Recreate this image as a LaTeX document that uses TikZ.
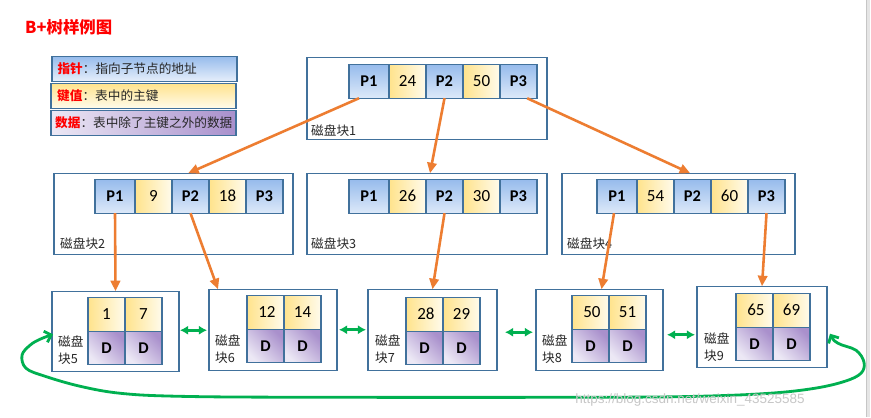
\documentclass[tikz,border=0pt]{standalone}
\usepackage{fontspec}
\usepackage{xcolor}
\usepackage{tikz}
\setmainfont{Carlito}
\newfontfamily\cjk{Noto Sans CJK SC}
\newfontfamily\wmfont{Liberation Sans}
\usetikzlibrary{positioning,arrows.meta,calc}
\definecolor{edge}{HTML}{41719C}
\definecolor{ptop}{HTML}{96BBEC}
\definecolor{pbot}{HTML}{DDE9F9}
\definecolor{kleft}{HTML}{FFE38C}
\definecolor{kright}{HTML}{FFFBEC}
\definecolor{dtop}{HTML}{A990CC}
\definecolor{dbot}{HTML}{ECE8F5}
\definecolor{arrowc}{HTML}{ED7D31}
\definecolor{linkc}{HTML}{00B050}

\begin{document}
\begin{tikzpicture}[x=0.03cm,y=-0.03cm,
  blk/.style={draw=edge,line width=1pt,inner sep=0pt,outer sep=0pt,anchor=north west},
  pcell/.style={draw=edge,line width=1pt,top color=ptop,bottom color=pbot,minimum width=1.11cm,minimum height=1.02cm,inner sep=0pt,outer sep=0pt,font=\fontsize{14}{16}\selectfont\bfseries},
  kcell/.style={draw=edge,line width=1pt,left color=kleft,right color=kright,minimum width=1.11cm,minimum height=1.02cm,inner sep=0pt,outer sep=0pt,font=\fontsize{14.5}{16}\selectfont},
  dcell/.style={draw=edge,line width=1pt,top color=dtop,bottom color=dbot,shading angle=-45,minimum width=1.11cm,minimum height=0.99cm,inner sep=0pt,outer sep=0pt,font=\fontsize{14}{16}\selectfont\bfseries},
  legbox/.style={draw=edge,line width=1pt,minimum width=5.55cm,minimum height=0.76cm,inner sep=0pt,outer sep=0pt,anchor=north west},
  tag/.style={font=\cjk\fontsize{10.8}{14}\selectfont,text=black!85,inner sep=0pt,anchor=west,align=left},
  ptr/.style={draw=arrowc,line width=2.2pt,-{Triangle[length=9pt,width=8pt]}},
  link/.style={draw=linkc,line width=2.4pt,{Latex[length=7pt,width=8pt]}-{Latex[length=7pt,width=8pt]}}]
\path[fill=white] (0,0) rectangle (871,417);
\fill[gray!20] (866.5,0) rectangle (870,417);
\draw[gray!45] (866.5,0) -- (866.5,417);

\node[font=\cjk\bfseries\fontsize{14}{16}\selectfont,text=red,anchor=west,inner sep=0pt] (title) at (25,27) {B+树样例图};

\node[legbox,top color=ptop,bottom color=pbot!70!white] (leg1) at (52,56) {};
\node[tag] at ([xshift=0.16cm]leg1.west) {{\bfseries\color{red}指针}：指向子节点的地址};
\node[legbox,top color=kleft,bottom color=kright] (leg2) at (51,83) {};
\node[tag] at ([xshift=0.18cm]leg2.west) {{\bfseries\color{red}键值}：表中的主键};
\node[legbox,left color=dbot,right color=dtop] (leg3) at (51,110) {};
\node[tag] at ([xshift=0.12cm]leg3.west) {{\bfseries\color{red}数据}：表中除了主键之外的数据};

\node[blk,minimum width=7.2cm,minimum height=2.46cm] (b1) at (307,57) {};
\node[pcell,minimum width=1.2cm,anchor=north west] (r1p1) at (349,64) {P1};
\node[kcell,right=0pt of r1p1] (r1k1) {24};
\node[pcell,right=0pt of r1k1] (r1p2) {P2};
\node[kcell,right=0pt of r1p2] (r1k2) {50};
\node[pcell,right=0pt of r1k2] (r1p3) {P3};
\node[tag] at (311,130) {磁盘块1};

\node[blk,minimum width=7.17cm,minimum height=2.43cm] (b2) at (54,173) {};
\node[pcell,minimum width=1.2cm,anchor=north west] (r2p1) at (95,179) {P1};
\node[kcell,right=0pt of r2p1] (r2k1) {9};
\node[pcell,right=0pt of r2k1] (r2p2) {P2};
\node[kcell,right=0pt of r2p2] (r2k2) {18};
\node[pcell,right=0pt of r2k2] (r2p3) {P3};
\node[tag] at (60,243) {磁盘块2};

\node[blk,minimum width=7.2cm,minimum height=2.43cm] (b3) at (307,173) {};
\node[pcell,minimum width=1.2cm,anchor=north west] (r3p1) at (349,179) {P1};
\node[kcell,right=0pt of r3p1] (r3k1) {26};
\node[pcell,right=0pt of r3k1] (r3p2) {P2};
\node[kcell,right=0pt of r3p2] (r3k2) {30};
\node[pcell,right=0pt of r3k2] (r3p3) {P3};
\node[tag] at (311,243) {磁盘块3};

\node[blk,minimum width=6.99cm,minimum height=2.43cm] (b4) at (562,173) {};
\node[pcell,minimum width=1.2cm,anchor=north west] (r4p1) at (597,179) {P1};
\node[kcell,right=0pt of r4p1] (r4k1) {54};
\node[pcell,right=0pt of r4k1] (r4p2) {P2};
\node[kcell,right=0pt of r4p2] (r4k2) {60};
\node[pcell,right=0pt of r4k2] (r4p3) {P3};
\node[tag] at (567,243) {磁盘块4};

\node[blk,minimum width=3.81cm,minimum height=2.4cm] (b5) at (52,291) {};
\node[kcell,anchor=north west] (l5k1) at (88,297) {1};
\node[kcell,right=0pt of l5k1] (l5k2) {7};
\node[dcell,below=0pt of l5k1] (l5d1) {D};
\node[dcell,right=0pt of l5d1] (l5d2) {D};
\node[tag] at (58,350) {磁盘\\块5};

\node[blk,minimum width=3.84cm,minimum height=2.43cm] (b6) at (209,289) {};
\node[kcell,anchor=north west] (l6k1) at (247,295) {\,12};
\node[kcell,right=0pt of l6k1] (l6k2) {14};
\node[dcell,below=0pt of l6k1] (l6d1) {D};
\node[dcell,right=0pt of l6d1] (l6d2) {D};
\node[tag] at (215,349) {磁盘\\块6};

\node[blk,minimum width=3.87cm,minimum height=2.43cm] (b7) at (368,289) {};
\node[kcell,anchor=north west] (l7k1) at (406,297) {\,28};
\node[kcell,right=0pt of l7k1] (l7k2) {29};
\node[dcell,below=0pt of l7k1] (l7d1) {D};
\node[dcell,right=0pt of l7d1] (l7d2) {D};
\node[tag] at (375,349) {磁盘\\块7};

\node[blk,minimum width=3.81cm,minimum height=2.43cm] (b8) at (536,289) {};
\node[kcell,anchor=north west] (l8k1) at (572,295) {\,50};
\node[kcell,right=0pt of l8k1] (l8k2) {51};
\node[dcell,below=0pt of l8k1] (l8d1) {D};
\node[dcell,right=0pt of l8d1] (l8d2) {D};
\node[tag] at (542,349) {磁盘\\块8};

\node[blk,minimum width=3.9cm,minimum height=2.43cm] (b9) at (697,286) {};
\node[kcell,anchor=north west] (l9k1) at (736,293) {\,65};
\node[kcell,right=0pt of l9k1] (l9k2) {69};
\node[dcell,below=0pt of l9k1] (l9d1) {D};
\node[dcell,right=0pt of l9d1] (l9d2) {D};
\node[tag] at (704,347) {磁盘\\块9};

\draw[ptr] ([xshift=-0.3cm]r1p1.south) -- ([xshift=0.44cm]b2.north);
\draw[ptr] (r1p2.south) -- ([xshift=0.09cm]b3.north);
\draw[ptr] ([xshift=0.26cm]r1p3.south) -- ([xshift=0.35cm]b4.north);
\draw[ptr] (r2p1.south) -- (b5.north);
\draw[ptr] (r2p2.south) -- ([xshift=0.27cm]b6.north west);
\draw[ptr] (r3p2.south) -- (b7.north);
\draw[ptr] ([xshift=-0.09cm]r4p1.south) -- ([xshift=0.06cm]b8.north);
\draw[ptr] (r4p3.south) -- (b9.north);

\draw[link] ($(b5.east)+(1,-1)$) -- ($(b6.west)+(-2,0.5)$);
\draw[link] ($(b6.east)+(2,0)$) -- ($(b7.west)+(-2,0)$);
\draw[link] ($(b7.east)+(8,2.5)$) -- ($(b8.west)+(-3,2.5)$);
\draw[link] ($(b8.east)+(4,5)$) -- ($(b9.west)+(-2,8)$);

\coordinate (loopA) at ($(b9.east)+(3,7)$);
\coordinate (loopB) at ($(b5.west)+(1,3)$);
\draw[linkc,line width=2.4pt,line cap=round,{Straight Barb[length=5pt,width=10pt]}-{Straight Barb[length=5pt,width=10pt]}]
  plot[smooth,tension=0.6] coordinates {(loopA) (838,343) (856,350) (864,362) (861,373) (845,381) (815,388) (770,393) (700,396) (600,397) (300,397) (177,396) (120,393) (80,386) (45,376) (26,368) (22,355) (30,345) (40,339) (loopB)};

\node[font=\wmfont\fontsize{11.5}{13}\selectfont,text=black!22,inner sep=0pt] (mark) at (690,400) {https://blog.csdn.net/weixin\_43525585};
\end{tikzpicture}
\end{document}
